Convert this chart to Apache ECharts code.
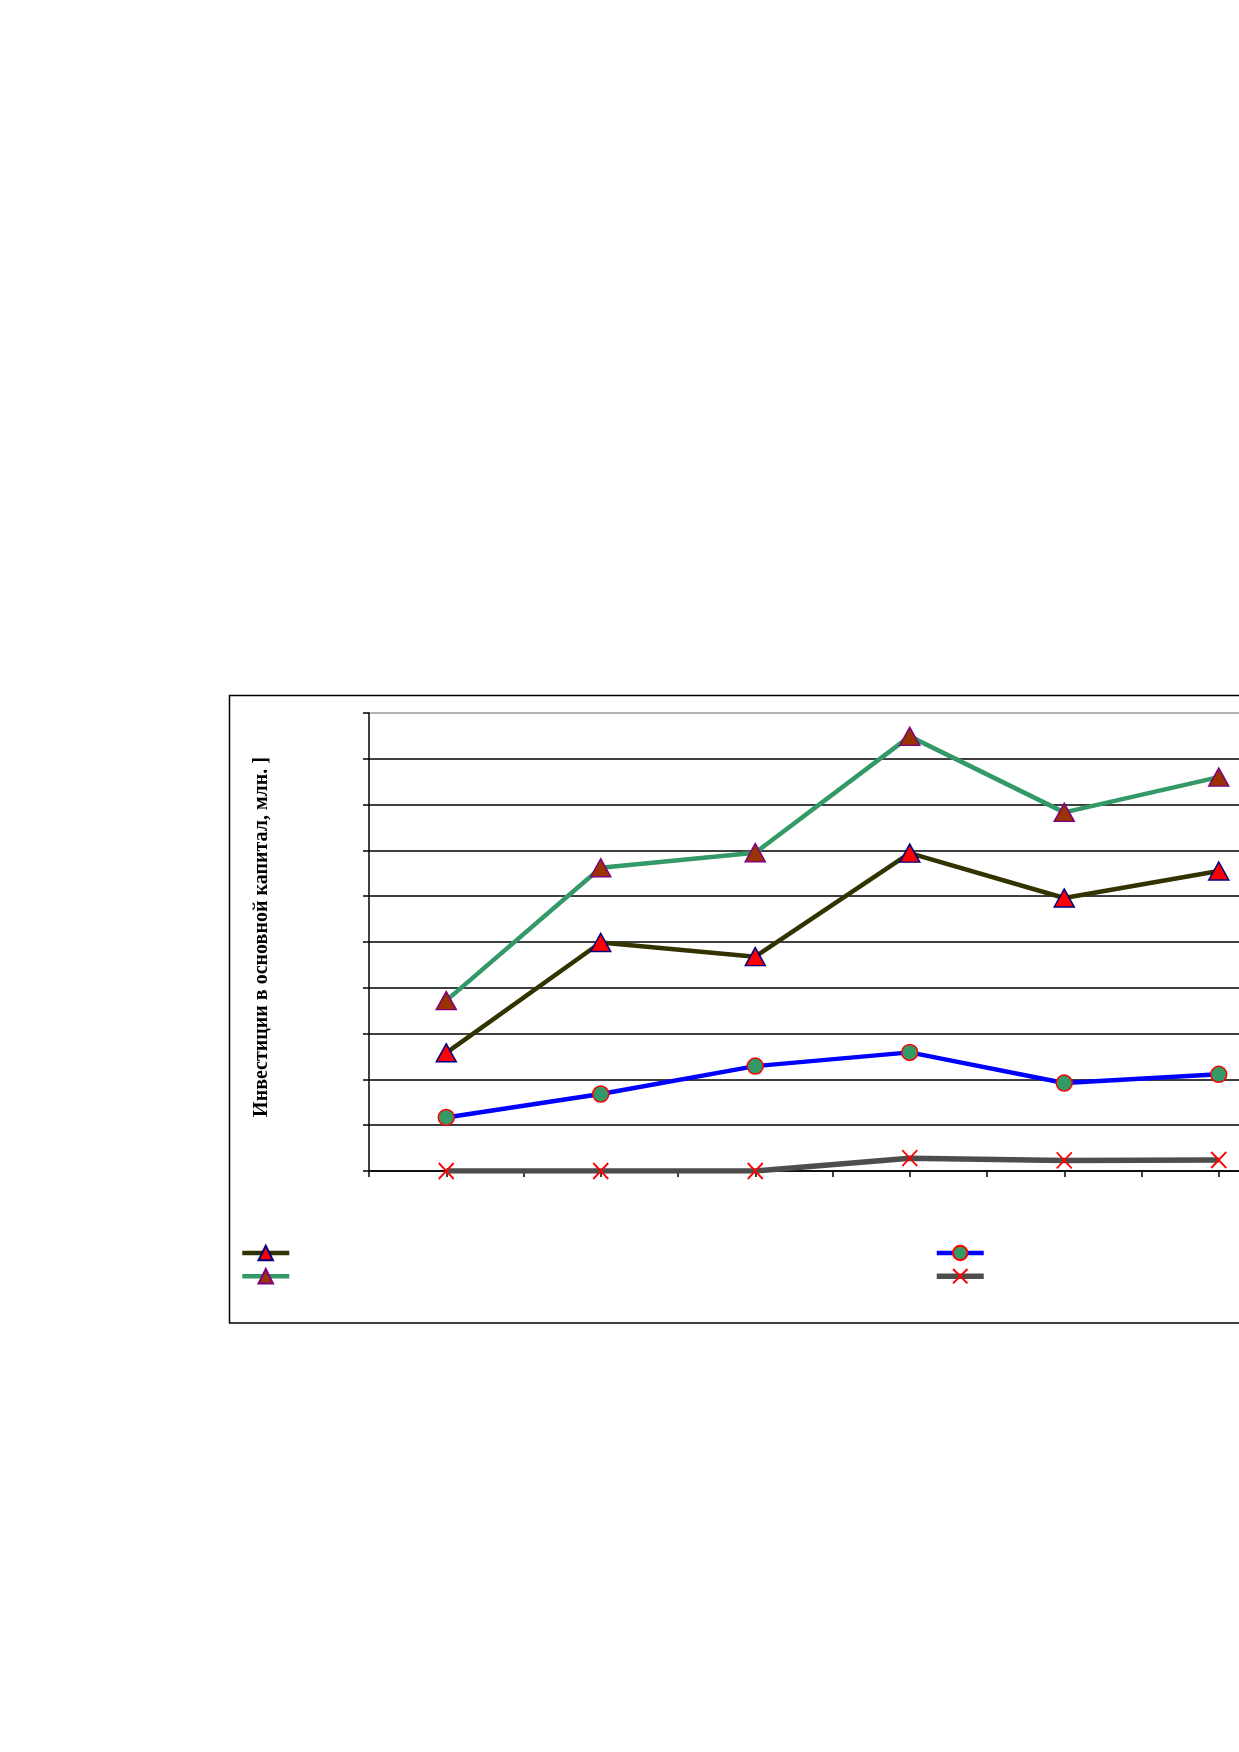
<!DOCTYPE html>
<html>
<head>
<meta charset="utf-8">
<script src="https://cdn.jsdelivr.net/npm/echarts@6/dist/echarts.min.js"></script>
<style>
html,body{margin:0;padding:0;background:#fff;overflow:hidden;}
#chart{width:1300px;height:1752px;}
</style>
</head>
<body>
<div id="chart"></div>
<script>
// Data (axis tick labels are not shown in the reference)
const categories = ['1', '2', '3', '4', '5', '6'];
const seriesOlive = [2.58, 4.99, 4.68, 6.94, 5.96, 6.55];
const seriesGreen = [3.72, 6.62, 6.95, 9.49, 7.83, 8.60];
const seriesBlue  = [1.17, 1.68, 2.29, 2.59, 1.92, 2.11];
const seriesGray  = [0.00, 0.00, 0.00, 0.28, 0.23, 0.24];
const seriesNames = ['Ряд 1', 'Ряд 2', 'Ряд 3', 'Ряд 4'];
const yTitle = 'Инвестиции в основной капитал, млн. ]';
const yMin = 0, yMax = 10, yInterval = 1;

const chart = echarts.init(document.getElementById('chart'), null, {renderer: 'canvas'});

const splitColors = [];
for (let i = 0; i < 10; i++) splitColors.push('#000000');
splitColors.push('#9a9a9a');

const xSymbol = 'path://M0,0L10,10M10,0L0,10';

const option = {
  backgroundColor: '#ffffff',
  animation: false,
  grid: {left: 369, top: 713, bottom: 581, right: 4},
  graphic: [{
    type: 'rect',
    shape: {x: 229.5, y: 695.5, width: 1100, height: 627.5},
    style: {fill: 'none', stroke: '#000000', lineWidth: 1.5},
    z: 0, silent: true
  }],
  legend: [{
    orient: 'vertical',
    left: 240, top: 1244, padding: 0,
    itemWidth: 47, itemHeight: 18, itemGap: 6,
    lineStyle: {width: 'inherit'},
    formatter: function () { return ''; },
    selectedMode: false,
    data: [seriesNames[0], seriesNames[1]]
  }, {
    orient: 'vertical',
    left: 934, top: 1244, padding: 0,
    itemWidth: 47, itemHeight: 18, itemGap: 6,
    lineStyle: {width: 'inherit'},
    formatter: function () { return ''; },
    selectedMode: false,
    data: [seriesNames[2], seriesNames[3]]
  }],
  xAxis: [{
    type: 'category',
    data: categories,
    boundaryGap: true,
    axisLine: {show: true, onZero: false, lineStyle: {color: '#000000', width: 1.5}},
    axisTick: {show: true, inside: false, length: 6, interval: 0, lineStyle: {color: '#000000', width: 1.5}},
    axisLabel: {show: false},
    splitLine: {show: false}
  }, {
    type: 'category',
    data: categories,
    position: 'bottom',
    boundaryGap: true,
    gridIndex: 0,
    axisLine: {show: false},
    axisTick: {show: true, inside: false, length: 6, interval: 0, alignWithLabel: true, lineStyle: {color: '#000000', width: 1.5}},
    axisLabel: {show: false},
    splitLine: {show: false}
  }],
  yAxis: {
    type: 'value',
    min: yMin, max: yMax, interval: yInterval,
    name: yTitle,
    nameLocation: 'middle',
    nameGap: 97,
    nameRotate: 90,
    nameTextStyle: {
      fontFamily: '"Liberation Serif", "DejaVu Serif", serif',
      fontWeight: 'bold',
      fontSize: 20,
      color: '#000000',
      padding: [0, 0, 0, 10]
    },
    axisLine: {show: true, lineStyle: {color: '#000000', width: 1.5}},
    axisTick: {show: true, inside: false, length: 6, lineStyle: {color: '#000000', width: 1.5}},
    axisLabel: {show: false},
    splitLine: {show: true, lineStyle: {color: splitColors, width: 1.5}}
  },
  series: [{
    name: seriesNames[2],
    type: 'line',
    data: seriesBlue,
    symbol: 'circle',
    symbolSize: 16,
    lineStyle: {color: '#0000ff', width: 4.5},
    itemStyle: {color: '#339966', borderColor: '#ff0000', borderWidth: 1.5},
    z: 3
  }, {
    name: seriesNames[3],
    type: 'line',
    data: seriesGray,
    symbol: xSymbol,
    symbolSize: [15, 16],
    lineStyle: {color: '#4d4d4d', width: 5.5},
    itemStyle: {color: 'rgba(0,0,0,0)', borderColor: '#ff0000', borderWidth: 1.8},
    z: 3
  }, {
    name: seriesNames[0],
    type: 'line',
    data: seriesOlive,
    symbol: 'triangle',
    symbolSize: [20, 18],
    lineStyle: {color: '#333300', width: 4.5},
    itemStyle: {color: '#ff0000', borderColor: '#000080', borderWidth: 1.5},
    z: 4
  }, {
    name: seriesNames[1],
    type: 'line',
    data: seriesGreen,
    symbol: 'triangle',
    symbolSize: [20, 18],
    lineStyle: {color: '#339966', width: 4.5},
    itemStyle: {color: '#993300', borderColor: '#800080', borderWidth: 1.5},
    z: 4
  }]
};

chart.setOption(option);
</script>
</body>
</html>
